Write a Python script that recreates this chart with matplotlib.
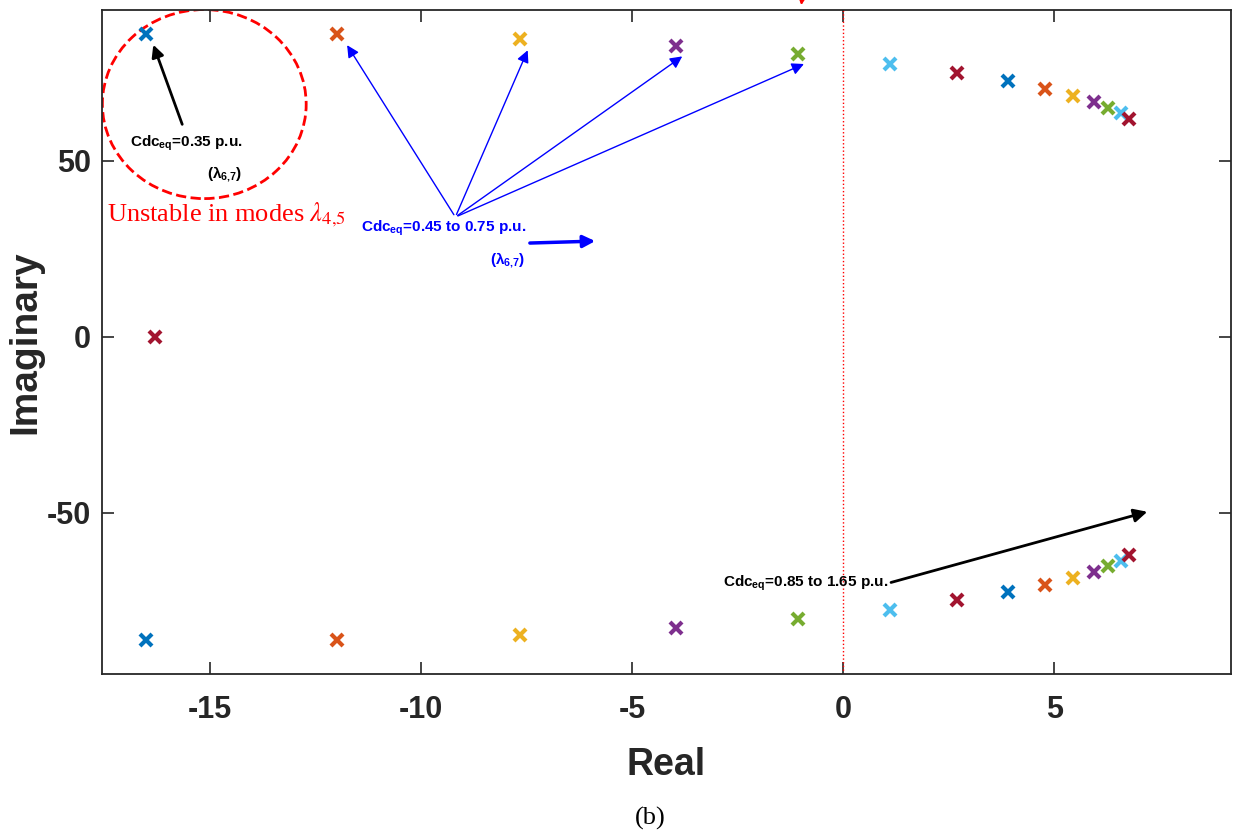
import matplotlib
matplotlib.use('Agg')
import matplotlib.pyplot as plt
from matplotlib.patches import Ellipse

plt.rcParams['font.family'] = ['Liberation Sans', 'DejaVu Sans']
plt.rcParams['axes.unicode_minus'] = False
plt.rcParams['mathtext.fontset'] = 'custom'
plt.rcParams['mathtext.rm'] = 'Liberation Sans'
plt.rcParams['mathtext.bf'] = 'Liberation Sans:bold'
plt.rcParams['mathtext.it'] = 'Liberation Sans:italic'

# eigenvalues lambda_6,7 for Cdc_eq = 0.35 ... 1.65 p.u. (conjugate pairs)
cdc_eq = [0.35, 0.45, 0.55, 0.65, 0.75, 0.85, 0.95, 1.05, 1.15, 1.25, 1.35, 1.45, 1.55, 1.65]
re_part = [-16.52, -11.99, -7.65, -3.96, -1.07, 1.11, 2.70, 3.91, 4.79, 5.45, 5.95, 6.28, 6.59, 6.78]
im_part = [86.0, 86.0, 84.6, 82.6, 80.3, 77.5, 74.9, 72.6, 70.4, 68.4, 66.7, 65.0, 63.6, 61.9]

# real eigenvalue
real_pole = (-16.30, 0.0)

# MATLAB default colour order
colors = ['#0072BD', '#D95319', '#EDB120', '#7E2F8E', '#77AC30', '#4DBEEE', '#A2142F']

fig = plt.figure(figsize=(12.33, 8.4), dpi=100)
ax = fig.add_axes([0.0825, 0.1976, 0.9159, 0.7904])

ax.plot(real_pole[0], real_pole[1], 'x', color=colors[6], ms=9, mew=3)
for i in range(len(cdc_eq)):
    c = colors[i % 7]
    ax.plot(re_part[i], im_part[i], 'x', color=c, ms=9, mew=3)
    ax.plot(re_part[i], -im_part[i], 'x', color=c, ms=9, mew=3)

ax.axvline(0, color='red', ls=':', lw=1)

ax.set_xlim(-17.57, 9.19)
ax.set_ylim(-95.8, 92.8)
ax.set_xticks([-15, -10, -5, 0, 5])
ax.set_yticks([-50, 0, 50])
ax.tick_params(direction='in', length=8.5, width=1.2, color='#262626', top=True, right=True,
               labelsize=22, pad=15)
ax.tick_params(axis='y', pad=8)
for lab in ax.get_xticklabels() + ax.get_yticklabels():
    lab.set_fontweight('bold')
    lab.set_color('#262626')
for sp in ax.spines.values():
    sp.set_linewidth(1.3)
    sp.set_color('#262626')

ax.set_xlabel('Real', fontsize=27, fontweight='bold', color='#262626', labelpad=16)
ax.set_ylabel('Imaginary', fontsize=28, fontweight='bold', color='#262626', labelpad=2)

# unstable region
ax.add_patch(Ellipse((-15.14, 66.1), 4.83, 53.7, fill=False, ec='red', ls='--', lw=2))
ax.text(-17.44, 33.0, 'Unstable in modes $\\lambda_{4{,}5}$', color='red', fontsize=19,
        family='Liberation Serif', math_fontfamily='stix', va='baseline')

ax.annotate('', xy=(-16.37, 83.7), xytext=(-15.64, 59.6),
            arrowprops=dict(arrowstyle='-|>', color='black', lw=2, mutation_scale=18))
ax.text(-16.90, 53.9, 'Cdc$_{\\mathbf{eq}}$=0.35 p.u.', fontsize=11, fontweight='bold', va='baseline')
ax.text(-15.07, 45.1, '(λ$_{\\mathbf{6{,}7}}$)', fontsize=11, fontweight='bold', va='baseline')

# Cdc_eq = 0.45 to 0.75 p.u.
for k in range(1, 5):
    ax.annotate('', xy=(re_part[k] + 0.2, im_part[k] - 2.5), xytext=(-9.19, 34.0),
                arrowprops=dict(arrowstyle='-|>', color='blue', lw=1, mutation_scale=18))
ax.text(-11.42, 29.8, 'Cdc$_{\\mathbf{eq}}$=0.45 to 0.75 p.u.', fontsize=11, fontweight='bold',
        color='blue', va='baseline')
ax.text(-8.36, 20.6, '(λ$_{\\mathbf{6{,}7}}$)', fontsize=11, fontweight='bold', color='blue',
        va='baseline')
ax.annotate('', xy=(-5.81, 27.2), xytext=(-7.49, 26.6),
            arrowprops=dict(arrowstyle='-|>', color='blue', lw=2.5, mutation_scale=18))

# Cdc_eq = 0.85 to 1.65 p.u.
ax.annotate('', xy=(7.27, -49.5), xytext=(1.07, -70.0),
            arrowprops=dict(arrowstyle='-|>', color='black', lw=2, mutation_scale=20))
ax.text(-2.85, -71.0, 'Cdc$_{\\mathbf{eq}}$=0.85 to 1.65 p.u.', fontsize=11, fontweight='bold',
        va='baseline')

# arrow coming from above the frame
ax.annotate('', xy=(-1.0, 93.4), xytext=(-0.8, 115), annotation_clip=False,
            arrowprops=dict(arrowstyle='-|>', color='red', lw=1.5, mutation_scale=20))

fig.text(650 / 1233, 1 - 818 / 840, '(b)', fontsize=19, family='Liberation Serif',
         ha='center', va='center')

fig.savefig('out.png', dpi=100)
